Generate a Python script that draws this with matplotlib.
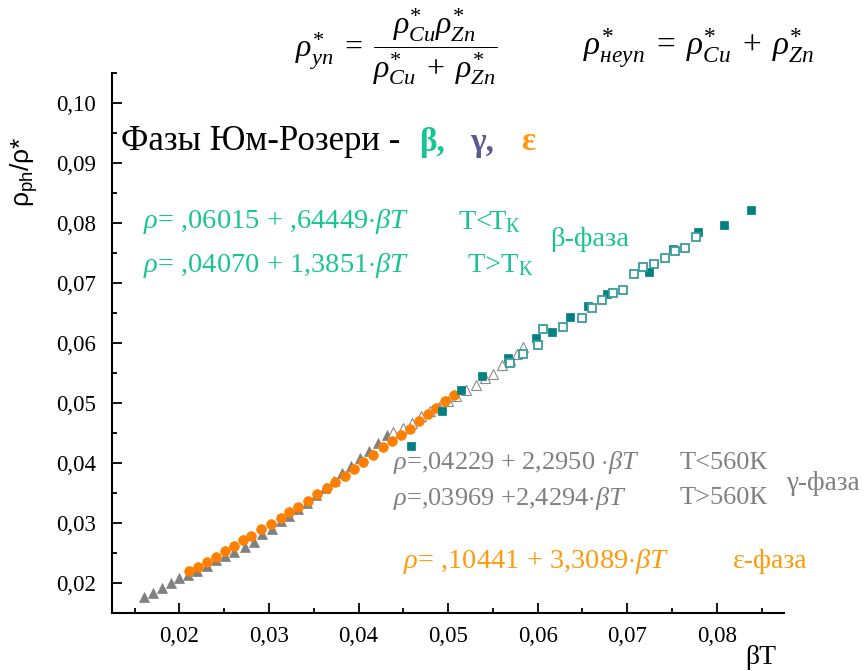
import matplotlib
matplotlib.use('Agg')
import matplotlib.pyplot as plt
from matplotlib.ticker import MultipleLocator, FixedLocator, FixedFormatter

plt.rcParams['font.family'] = ['Liberation Serif', 'DejaVu Serif']
plt.rcParams['mathtext.fontset'] = 'custom'
plt.rcParams['mathtext.rm'] = 'Liberation Serif'
plt.rcParams['mathtext.it'] = 'Liberation Serif:italic'
plt.rcParams['mathtext.bf'] = 'Liberation Serif:bold'
plt.rcParams['mathtext.sf'] = 'Liberation Sans'

# ---- data ----
# gamma phase, T < 560K (filled grey triangles)
gamma_lo_x = [0.0160, 0.0170, 0.0180, 0.0190, 0.0200, 0.0210, 0.0220, 0.0231, 0.0241, 0.0251,
              0.0261, 0.0273, 0.0283, 0.0292, 0.0303, 0.0313, 0.0322, 0.0332, 0.0342, 0.0352,
              0.0362, 0.0372, 0.0382, 0.0392, 0.0402, 0.0412, 0.0422, 0.0432]
gamma_lo_y = [0.0177, 0.0184, 0.0191, 0.0200, 0.0208, 0.0213, 0.0220, 0.0229, 0.0238, 0.0245,
              0.0251, 0.0260, 0.0269, 0.0281, 0.0290, 0.0303, 0.0311, 0.0323, 0.0334, 0.0346,
              0.0358, 0.0370, 0.0383, 0.0395, 0.0408, 0.0420, 0.0434, 0.0447]
# gamma phase, T > 560K (open grey triangles)
gamma_hi_x = [0.0438, 0.0450, 0.0460, 0.0470, 0.0480, 0.0490, 0.0500, 0.0509, 0.0520, 0.0531,
              0.0541, 0.0550, 0.0560, 0.0569, 0.0577, 0.0584]
gamma_hi_y = [0.0451, 0.0458, 0.0466, 0.0479, 0.0486, 0.0494, 0.0503, 0.0511, 0.0521, 0.0530,
              0.0541, 0.0549, 0.0563, 0.0571, 0.0581, 0.0593]
# epsilon phase (orange circles)
eps_x = [0.0211, 0.0221, 0.0231, 0.0241, 0.0251, 0.0261, 0.0271, 0.0280, 0.0291, 0.0302,
         0.0313, 0.0322, 0.0332, 0.0343, 0.0354, 0.0365, 0.0374, 0.0385, 0.0395, 0.0405,
         0.0416, 0.0427, 0.0437, 0.0447, 0.0457, 0.0467, 0.0477, 0.0486, 0.0497, 0.0506]
eps_y = [0.0220, 0.0227, 0.0235, 0.0244, 0.0253, 0.0262, 0.0272, 0.0279, 0.0290, 0.0298,
         0.0308, 0.0318, 0.0326, 0.0337, 0.0348, 0.0358, 0.0368, 0.0379, 0.0390, 0.0401,
         0.0413, 0.0426, 0.0437, 0.0446, 0.0457, 0.0470, 0.0481, 0.0491, 0.0503, 0.0514]
# beta phase, T < Tk (filled teal squares)
beta_lo_x = [0.0458, 0.0493, 0.0514, 0.0538, 0.0567, 0.0598, 0.0616, 0.0636, 0.0656, 0.0677,
             0.0724, 0.0751, 0.0779, 0.0808, 0.0838]
beta_lo_y = [0.0428, 0.0487, 0.0521, 0.0545, 0.0575, 0.0608, 0.0619, 0.0643, 0.0661, 0.0682,
             0.0718, 0.0756, 0.0785, 0.0797, 0.0822]
# beta phase, T > Tk (open teal squares)
beta_hi_x = [0.0569, 0.0584, 0.0600, 0.0606, 0.0628, 0.0650, 0.0661, 0.0672, 0.0684, 0.0695,
             0.0707, 0.0718, 0.0730, 0.0742, 0.0753, 0.0765, 0.0777]
beta_hi_y = [0.0567, 0.0582, 0.0596, 0.0623, 0.0626, 0.0642, 0.0659, 0.0672, 0.0684, 0.0689,
             0.0715, 0.0727, 0.0732, 0.0742, 0.0754, 0.0759, 0.0777]

x_ticks = [0.02, 0.03, 0.04, 0.05, 0.06, 0.07, 0.08]
x_tick_labels = ['0,02', '0,03', '0,04', '0,05', '0,06', '0,07', '0,08']
y_ticks = [0.02, 0.03, 0.04, 0.05, 0.06, 0.07, 0.08, 0.09, 0.10]
y_tick_labels = ['0,02', '0,03', '0,04', '0,05', '0,06', '0,07', '0,08', '0,09', '0,10']

# ---- colours ----
GREEN = '#19c493'
GREY = '#808080'
PURPLE = '#5b5b8f'
ORANGE_T = '#ff9a0a'
ORANGE = '#ff7f00'
TEAL = '#008080'
TEAL_L = '#3a9c9c'

W, H = 865, 671
fig = plt.figure(figsize=(W / 100, H / 100), dpi=100)
ax = fig.add_axes([112.3 / W, 1 - 613 / H, (784 - 112.3) / W, (613 - 73) / H])


def P(x, y):
    return (x / W, 1 - y / H)


ax.plot(gamma_lo_x, gamma_lo_y, linestyle='none', marker='^', ms=7.6,
        color=GREY, mec=GREY, mew=0.5)
ax.plot(gamma_hi_x, gamma_hi_y, linestyle='none', marker='^', ms=7.6,
        mfc='white', mec='#8a8a8a', mew=0.8)
ax.plot(eps_x, eps_y, linestyle='none', marker='o', ms=7.0,
        color=ORANGE, mec=ORANGE, mew=0.5)
ax.plot(beta_lo_x, beta_lo_y, linestyle='none', marker='s', ms=6.4,
        color=TEAL, mec=TEAL, mew=0.5)
ax.plot(beta_hi_x, beta_hi_y, linestyle='none', marker='s', ms=6.2,
        mfc='white', mec=TEAL_L, mew=1.3)

ax.set_xlim(0.0125, 0.0875)
ax.set_ylim(0.015, 0.105)
for s in ['top', 'right']:
    ax.spines[s].set_visible(False)
for s in ['left', 'bottom']:
    ax.spines[s].set_linewidth(1.5)

ax.xaxis.set_major_locator(FixedLocator(x_ticks))
ax.xaxis.set_major_formatter(FixedFormatter(x_tick_labels))
ax.yaxis.set_major_locator(FixedLocator(y_ticks))
ax.yaxis.set_major_formatter(FixedFormatter(y_tick_labels))
ax.xaxis.set_minor_locator(MultipleLocator(0.005))
ax.yaxis.set_minor_locator(MultipleLocator(0.005))
ax.tick_params(which='both', direction='in', width=1.3, labelsize=16.5)
ax.tick_params(which='major', length=7)
ax.tick_params(which='minor', length=3.6)
ax.tick_params(axis='y', which='major', pad=12)
ax.tick_params(axis='x', which='major', pad=9)

# ---- top formulas ----
f1 = (r'$\rho^{*}_{уп}\;=\;\dfrac{\rho^{*}_{Cu}\rho^{*}_{Zn}}'
      r'{\rho^{*}_{Cu}\;+\;\rho^{*}_{Zn}}$')
f2 = r'$\rho^{*}_{неуп}\;=\;\rho^{*}_{Cu}\;+\;\rho^{*}_{Zn}$'
fig.text(*P(396, 47), f1, fontsize=23, ha='center', va='center')
fig.text(*P(583, 49), f2, fontsize=24, ha='left', va='center')

# ---- phase header ----
fig.text(*P(121, 142), 'Фазы Юм-Розери -', fontsize=25, ha='left', va='center')
fig.text(*P(419, 142), 'β,', fontsize=24, fontweight='bold', color=GREEN, ha='left', va='center')
fig.text(*P(470, 142), 'γ,', fontsize=24, fontweight='bold', color=PURPLE, ha='left', va='center')
fig.text(*P(521, 142), 'ε', fontsize=24, fontweight='bold', color=ORANGE_T, ha='left', va='center')

# ---- beta equations ----
fig.text(*P(143, 222), r'$\rho$= ,06015 + ,64449$\cdot\beta T$', fontsize=20.5, color=GREEN, va='center')
fig.text(*P(458, 222), r'T<T$_\mathrm{К}$', fontsize=20.5, color=GREEN, va='center')
fig.text(*P(143, 265), r'$\rho$= ,04070 + 1,3851$\cdot\beta T$', fontsize=20.5, color=GREEN, va='center')
fig.text(*P(467, 265), r'T>T$_\mathrm{К}$', fontsize=20.5, color=GREEN, va='center')
fig.text(*P(550, 240), 'β-фаза', fontsize=20.5, color=GREEN, va='center')

# ---- gamma equations ----
fig.text(*P(393, 463), r'$\rho$=,04229 + 2,2950 $\cdot\beta T$', fontsize=19, color=GREY, va='center')
fig.text(*P(680, 463), 'T<560К', fontsize=19, color=GREY, va='center')
fig.text(*P(393, 498), r'$\rho$=,03969 +2,4294$\cdot\beta T$', fontsize=19, color=GREY, va='center')
fig.text(*P(680, 498), 'T>560К', fontsize=19, color=GREY, va='center')
fig.text(*P(786, 483), 'γ-фаза', fontsize=19.5, color=GREY, va='center')

# ---- epsilon equation ----
fig.text(*P(403, 562), r'$\rho$= ,10441 + 3,3089$\cdot\beta T$', fontsize=20.5, color=ORANGE_T, va='center')
fig.text(*P(733, 562), 'ε-фаза', fontsize=20, color=ORANGE_T, va='center')

# ---- axis labels ----
fig.text(*P(24, 172), r'$\mathsf{\rho_{ph}/\rho}$*', fontsize=19, rotation=90,
         ha='center', va='center', family='Liberation Sans')
fig.text(*P(745, 658), 'βT', fontsize=20, ha='left', va='center')

fig.savefig('out.png', dpi=100)
